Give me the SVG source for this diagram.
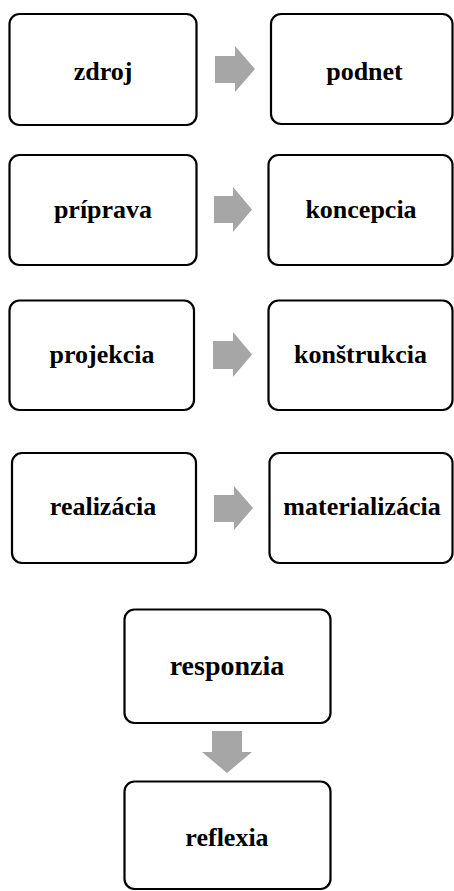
<svg xmlns="http://www.w3.org/2000/svg" width="454" height="891" viewBox="0 0 454 891">
<style>
.box{fill:#fff;stroke:#000;stroke-width:2.2}
text{font-family:'Liberation Serif','Times New Roman',Times,serif;font-weight:bold;font-size:26px;text-anchor:middle;fill:#000}
.arr{fill:#a6a6a6}
</style>
<rect width="454" height="891" fill="#fff"/>
<g id="connectors">
<path class="arr" d="M215,56 H235 V46 L255,69 L235,92 V83 H215 Z"/>
<path class="arr" d="M214,196 H233 V187 L252,209.5 L233,232 V223 H214 Z"/>
<path class="arr" d="M213,341 H233 V332 L252,354.5 L233,377 V369 H213 Z"/>
<path class="arr" d="M214,495 H234 V486 L253,508 L234,530 V522 H214 Z"/>
<path class="arr" d="M212,731 V752 H202 L227,773 L252,752 H242 V731 Z"/>
</g>
<g id="zdroj"><rect class="box" x="9.5" y="14" width="187" height="111" rx="10"/><text x="103" y="80" font-size="28">zdroj</text></g>
<g id="podnet"><rect class="box" x="271" y="14" width="181.5" height="110" rx="10"/><text x="364.5" y="80">podnet</text></g>
<g id="priprava"><rect class="box" x="9.5" y="155" width="187" height="110" rx="10"/><text x="103" y="218">príprava</text></g>
<g id="koncepcia"><rect class="box" x="268.5" y="155" width="184" height="110" rx="10"/><text x="361" y="218">koncepcia</text></g>
<g id="projekcia"><rect class="box" x="9.5" y="300.5" width="184.5" height="109.5" rx="10"/><text x="102" y="363">projekcia</text></g>
<g id="konstrukcia"><rect class="box" x="268.5" y="300.5" width="184" height="109.5" rx="10"/><text x="360.5" y="363">konštrukcia</text></g>
<g id="realizacia"><rect class="box" x="12" y="453" width="184" height="110" rx="10"/><text x="103" y="515">realizácia</text></g>
<g id="materializacia"><rect class="box" x="269.5" y="453" width="183" height="110" rx="10"/><text x="362" y="515">materializácia</text></g>
<g id="responzia"><rect class="box" x="124.5" y="609.5" width="206" height="113.5" rx="10"/><text x="227" y="675" style="font-size:28px">responzia</text></g>
<g id="reflexia"><rect class="box" x="124.5" y="781.5" width="206" height="107.5" rx="10"/><text x="227" y="846">reflexia</text></g>
</svg>
